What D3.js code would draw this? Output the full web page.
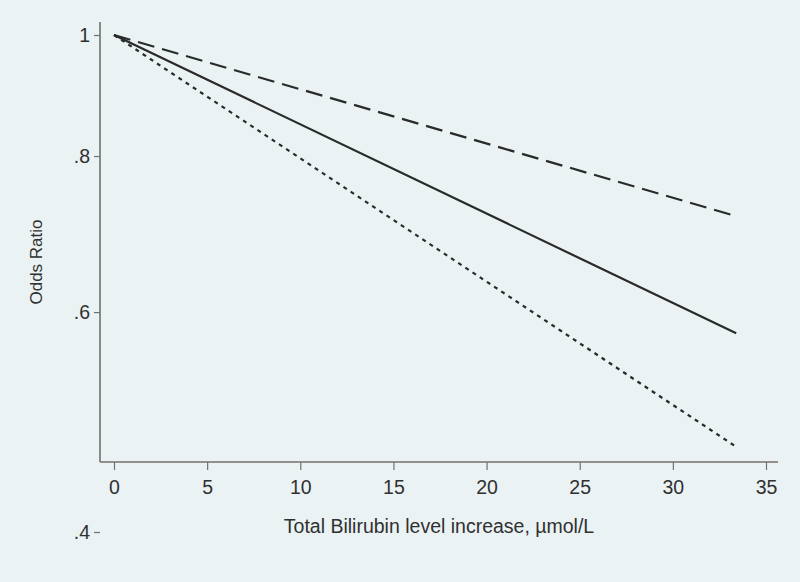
<!DOCTYPE html>
<html><head><meta charset="utf-8">
<script src="https://cdn.jsdelivr.net/npm/d3@7"></script>
<style>
html,body{margin:0;padding:0;background:#eaf2f4;}
svg{display:block;font-family:Arial,"Liberation Sans",sans-serif;}
</style></head>
<body>
<svg id="c" width="800" height="582"></svg>
<script>
// Data
const xTicks = [0, 5, 10, 15, 20, 25, 30, 35];
const yTicks = [1, 0.8, 0.6, 0.4];
const yTickLabels = ["1", ".8", ".6", ".4"];
const xStart = [0, 0, 0];
const xEnd = [33.4, 33.4, 33.4];
const seriesNames = ["upper", "estimate", "lower"];
const orStart = [1, 1, 1];
const orEnd = [0.716, 0.577, 0.468];
const dashes = ["17,8", null, "4,4.6"];

const svg = d3.select("#c");
const x = d3.scaleLinear().domain([0, 35]).range([114, 766]);
const y = d3.scaleLog().domain([0.4, 1]).range([532, 35]);

const axisColor = "#707070";
const textColor = "#303030";
const ff = "Arial, 'Liberation Sans', sans-serif";

// plot frame lines
svg.append("line").attr("x1", 100).attr("x2", 100).attr("y1", 22).attr("y2", 462)
  .attr("stroke", axisColor).attr("stroke-width", 1.6);
svg.append("line").attr("x1", 100).attr("x2", 778).attr("y1", 462).attr("y2", 462)
  .attr("stroke", "#7a6f6a").attr("stroke-width", 1.6);

// y axis
const yAxis = d3.axisLeft(y).tickValues(yTicks)
  .tickFormat((d, i) => yTickLabels[i]).tickSize(6).tickPadding(4);
const gy = svg.append("g").attr("transform", "translate(100,0)").call(yAxis);
gy.select(".domain").remove();
gy.selectAll(".tick line").attr("stroke", axisColor).attr("stroke-width", 1.2);
gy.selectAll(".tick text").attr("fill", textColor).style("font-size", "19.5px").style("font-family", ff);

// x axis
const xAxis = d3.axisBottom(x).tickValues(xTicks).tickSize(8).tickPadding(10);
const gx = svg.append("g").attr("transform", "translate(0,462)").call(xAxis);
gx.select(".domain").remove();
gx.selectAll(".tick line").attr("stroke", axisColor).attr("stroke-width", 1.2);
gx.selectAll(".tick text").attr("fill", textColor).style("font-size", "19.5px").style("font-family", ff);

// lines
const line = d3.line().x(d => x(d[0])).y(d => y(d[1]));
seriesNames.forEach((name, i) => {
  const pts = [[xStart[i], orStart[i]], [xEnd[i], orEnd[i]]];
  const p = svg.append("path").datum(pts).attr("d", line)
    .attr("fill", "none").attr("stroke", "#2a2a2a").attr("stroke-width", 2.2);
  if (dashes[i]) p.attr("stroke-dasharray", dashes[i]);
});

// axis titles
svg.append("text").attr("x", 439).attr("y", 533).attr("text-anchor", "middle")
  .attr("fill", textColor).style("font-size", "19.5px").style("font-family", ff)
  .text("Total Bilirubin level increase, µmol/L");
svg.append("text").attr("transform", "translate(42,262) rotate(-90)")
  .attr("text-anchor", "middle").attr("fill", textColor).style("font-size", "17px").style("font-family", ff)
  .text("Odds Ratio");
</script>
</body></html>
